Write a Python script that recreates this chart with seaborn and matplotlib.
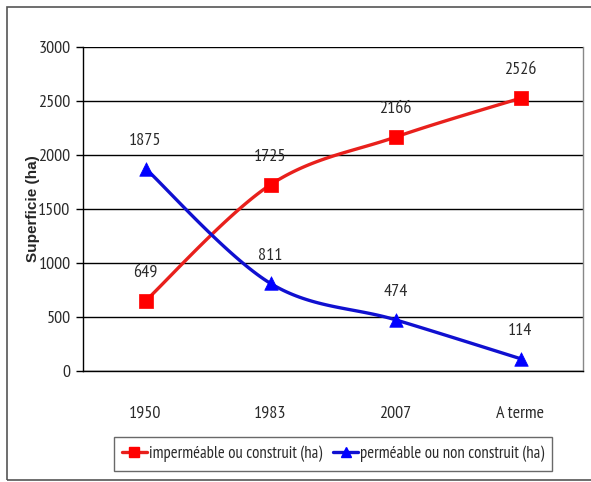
import numpy as np
import pandas as pd
import seaborn as sns
import matplotlib
matplotlib.use("Agg")
import matplotlib.pyplot as plt
from matplotlib.lines import Line2D
from matplotlib.patches import Rectangle

# Land area by period (ha)
periods = ["1950", "1983", "2007", "A terme"]
impermeable = [649, 1725, 2166, 2526]
permeable = [1875, 811, 474, 114]
series_names = ["imperméable ou construit (ha)", "perméable ou non construit (ha)"]
y_ticks = [0, 500, 1000, 1500, 2000, 2500, 3000]

sns.set_style("white")
plt.rcParams["font.family"] = ["PT Sans Narrow", "Archivo Narrow", "Liberation Sans", "DejaVu Sans"]

df = pd.DataFrame({
    "pos": list(range(len(periods))) * 2,
    "valeur": impermeable + permeable,
    "serie": [series_names[0]] * len(periods) + [series_names[1]] * len(periods),
})

W, H = 591, 482
fig = plt.figure(figsize=(W / 100, H / 100), dpi=100)
ax = fig.add_axes([83 / W, 1 - 371 / H, 500 / W, 324 / H])

line_cols = {series_names[0]: "#e8201c", series_names[1]: "#1010d0"}
mark_cols = {series_names[0]: "#ff0000", series_names[1]: "#0000ff"}
markers = {series_names[0]: "s", series_names[1]: "^"}
text_col = "#2a2a2a"
fs = 13


def smooth(xs, ys, n=40):
    """Bezier smoothing of a polyline (control points at 1/6 of neighbour chords)."""
    xs = np.asarray(xs, float)
    ys = np.asarray(ys, float)
    px = np.concatenate([[xs[0]], xs, [xs[-1]]])
    py = np.concatenate([[ys[0]], ys, [ys[-1]]])
    out_x, out_y = [], []
    t = np.linspace(0, 1, n)
    for i in range(1, len(px) - 2):
        p0 = np.array([px[i], py[i]])
        p3 = np.array([px[i + 1], py[i + 1]])
        c1 = p0 + (np.array([px[i + 1], py[i + 1]]) - np.array([px[i - 1], py[i - 1]])) / 6
        c2 = p3 - (np.array([px[i + 2], py[i + 2]]) - np.array([px[i], py[i]])) / 6
        b = ((1 - t) ** 3)[:, None] * p0 + (3 * (1 - t) ** 2 * t)[:, None] * c1 \
            + (3 * (1 - t) * t ** 2)[:, None] * c2 + (t ** 3)[:, None] * p3
        out_x.extend(b[:, 0])
        out_y.extend(b[:, 1])
    return out_x, out_y


for name in series_names:
    sub = df[df["serie"] == name]
    sx, sy = smooth(sub["pos"], sub["valeur"])
    ax.plot(sx, sy, color=line_cols[name], lw=2.4, zorder=3, solid_capstyle="round")
    sns.scatterplot(data=sub, x="pos", y="valeur", marker=markers[name],
                    color=mark_cols[name], s=95, edgecolor=mark_cols[name],
                    linewidth=0.5, ax=ax, zorder=4, legend=False)
    for x, v in zip(sub["pos"], sub["valeur"]):
        ax.annotate(f"{v}", (x, v), xytext=(0, 20), textcoords="offset points",
                    ha="center", va="center", fontsize=fs, color=text_col)

ax.set_xlim(-0.5, len(periods) - 0.5)
ax.set_ylim(0, 3000)
ax.set_yticks(y_ticks)
ax.set_yticklabels([str(v) for v in y_ticks], fontsize=fs, color=text_col)
ax.set_xticks(range(len(periods)))
ax.set_xticklabels(periods, fontsize=fs, color=text_col)
ax.set_xticks(np.arange(-0.5, len(periods), 1.0), minor=True)
ax.tick_params(axis="x", which="major", length=0, pad=25)
ax.tick_params(axis="x", which="minor", length=5, width=1, color="black", direction="out")
ax.tick_params(axis="y", length=5, width=1, color="black", direction="out", left=True, pad=4)
ax.set_xlabel("")
ax.set_ylabel("Superficie (ha)", fontsize=11, fontweight="bold",
              family=["Liberation Sans", "DejaVu Sans"])
ax.yaxis.set_label_coords(-0.086, 0.5)

ax.yaxis.grid(True, color="black", lw=1)
ax.set_axisbelow(True)
for side in ["left", "bottom"]:
    ax.spines[side].set_color("black")
    ax.spines[side].set_linewidth(1)
ax.spines["top"].set_visible(False)
ax.spines["right"].set_color("#888888")
ax.spines["right"].set_linewidth(1)

handles = [Line2D([0], [0], color=line_cols[n], lw=2.4, marker=markers[n],
                  markersize=7, markerfacecolor=mark_cols[n],
                  markeredgecolor=mark_cols[n]) for n in series_names]
leg = fig.legend(handles, series_names, loc="center", bbox_to_anchor=(333 / W, 1 - 454 / H),
                 ncol=2, fontsize=12, frameon=True, fancybox=False, handlelength=1.5,
                 handletextpad=0.1, columnspacing=0.7, borderpad=0.5, borderaxespad=0)
for txt in leg.get_texts():
    txt.set_color(text_col)
leg.get_frame().set_edgecolor("#444444")
leg.get_frame().set_linewidth(1)

# Outer frame around the chart
fig.patches.append(Rectangle((7 / W, 2 / H), (W + 10) / W, (H - 9) / H, transform=fig.transFigure,
                             fill=False, edgecolor="#555555", lw=1.2, zorder=0))

fig.savefig("out.png", dpi=100)
